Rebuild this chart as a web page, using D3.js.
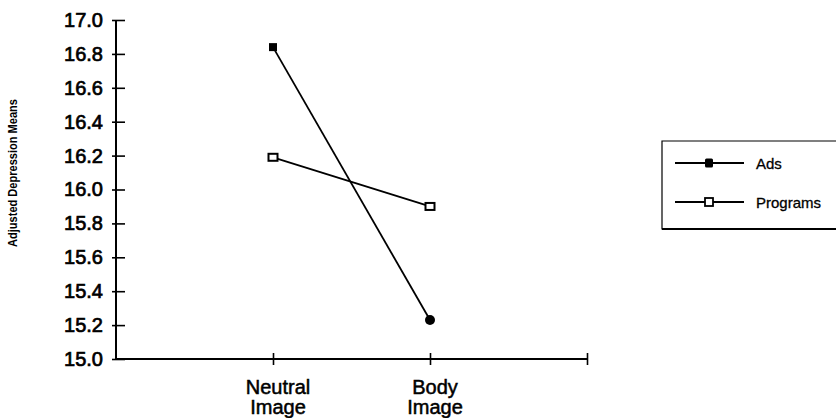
<!DOCTYPE html>
<html>
	<head>
		<meta charset="utf-8">
		<title>Adjusted Depression Means</title>
		<script src="https://d3js.org/d3.v7.min.js"></script>
		<style>
			body { margin: 0; background: #fff; }
			text { font-family: "Liberation Sans", Arial, sans-serif; fill: #000; }
		</style>
	</head>
	<body>
		<script>
			var w = 838;
			var h = 418;

			// data
			var categories = ["Neutral Image", "Body Image"];
			var ads = [16.84, 15.23];
			var programs = [16.19, 15.90];
			var yTicks = [15.0, 15.2, 15.4, 15.6, 15.8, 16.0, 16.2, 16.4, 16.6, 16.8, 17.0];
			var seriesNames = ["Ads", "Programs"];

			var svg = d3.select("body")
						.append("svg")
						.attr("width", w)
						.attr("height", h);

			var xScale = d3.scaleLinear()
				.domain([0, 3])
				.range([116, 587]);

			var yScale = d3.scaleLinear()
				.domain([15, 17])
				.range([359, 20]);

			// y axis
			var yAxis = d3.axisLeft(yScale)
				.tickValues(yTicks)
				.tickFormat(d3.format(".1f"))
				.tickSize(4)
				.tickPadding(9);

			var yG = svg.append("g")
				.attr("transform", "translate(" + xScale(0) + ",0)")
				.call(yAxis);
			yG.select(".domain").attr("stroke-width", 2).attr("d", "M0," + yScale(17) + "V" + yScale(15));
			yG.selectAll(".tick line").attr("x1", -4).attr("x2", 9).attr("stroke-width", 1.6);
			yG.selectAll(".tick text")
				.attr("font-size", 20)
				.attr("font-family", "Liberation Sans, Arial, sans-serif")
				.attr("stroke", "#000").attr("stroke-width", 0.7);

			// x axis
			var xAxis = d3.axisBottom(xScale)
				.tickValues([1, 2, 3])
				.tickFormat("")
				.tickSize(6);

			var xG = svg.append("g")
				.attr("transform", "translate(0," + yScale(15) + ")")
				.call(xAxis);
			xG.select(".domain").attr("stroke-width", 2).attr("d", "M" + xScale(0) + ",0H" + xScale(3));
			xG.selectAll(".tick line").attr("y1", -6).attr("y2", 6).attr("stroke-width", 1.6);

			// category labels, two lines
			categories.forEach(function(c, i) {
				var t = svg.append("text")
					.attr("x", xScale(i + 1) + 5)
					.attr("y", 394)
					.attr("text-anchor", "middle")
					.attr("font-size", 20)
					.attr("stroke", "#000").attr("stroke-width", 0.5);
				c.split(" ").forEach(function(part, j) {
					t.append("tspan")
						.attr("x", xScale(i + 1) + 5)
						.attr("dy", j === 0 ? 0 : 20)
						.text(part);
				});
			});

			// y axis title
			svg.append("text")
				.attr("transform", "translate(17,173) rotate(-90)")
				.attr("text-anchor", "middle")
				.attr("font-family", "Liberation Sans Narrow, Liberation Sans, Arial, sans-serif")
				.attr("font-size", 12)
				.attr("font-weight", "bold")
				.attr("textLength", 148)
				.attr("lengthAdjust", "spacingAndGlyphs")
				.text("Adjusted Depression Means");

			var line = d3.line()
				.x(function(d, i) { return xScale(i + 1); })
				.y(function(d) { return yScale(d); });

			// series lines
			svg.append("path")
				.datum(ads)
				.attr("d", line)
				.attr("fill", "none")
				.attr("stroke", "#000")
				.attr("stroke-width", 1.8);

			svg.append("path")
				.datum(programs)
				.attr("d", line)
				.attr("fill", "none")
				.attr("stroke", "#000")
				.attr("stroke-width", 1.8);

			// ads markers: filled square then filled dot
			svg.append("rect")
				.attr("x", xScale(1) - 4)
				.attr("y", yScale(ads[0]) - 4)
				.attr("width", 8)
				.attr("height", 8)
				.attr("fill", "#000");

			svg.append("circle")
				.attr("cx", xScale(2))
				.attr("cy", yScale(ads[1]))
				.attr("r", 5)
				.attr("fill", "#000");

			// programs markers: open squares
			svg.selectAll("rect.prog")
				.data(programs)
				.enter()
				.append("rect")
				.attr("class", "prog")
				.attr("x", function(d, i) { return xScale(i + 1) - 4.5; })
				.attr("y", function(d) { return yScale(d) - 3.5; })
				.attr("width", 9)
				.attr("height", 7)
				.attr("fill", "#fff")
				.attr("stroke", "#000")
				.attr("stroke-width", 2);

			// legend
			var legend = svg.append("g");
			legend.append("path")
				.attr("d", "M836,141H662V229H836")
				.attr("fill", "none")
				.attr("stroke", "#000")
				.attr("stroke-width", 1.2);
			legend.append("path")
				.attr("d", "M662,229H836")
				.attr("stroke", "#000")
				.attr("stroke-width", 2);

			var rows = [163, 202];
			seriesNames.forEach(function(name, i) {
				legend.append("line")
					.attr("x1", 675).attr("x2", 744)
					.attr("y1", rows[i]).attr("y2", rows[i])
					.attr("stroke", "#000")
					.attr("stroke-width", 1.8);
				if (i === 0) {
					legend.append("rect")
						.attr("x", 705).attr("y", rows[i] - 4.5)
						.attr("width", 8).attr("height", 9)
						.attr("rx", 1.5)
						.attr("fill", "#000");
				} else {
					legend.append("rect")
						.attr("x", 705).attr("y", rows[i] - 4)
						.attr("width", 8).attr("height", 8)
						.attr("fill", "#fff")
						.attr("stroke", "#000")
						.attr("stroke-width", 1.8);
				}
				legend.append("text")
					.attr("x", 756)
					.attr("y", rows[i] + 6)
					.attr("font-size", 15)
					.attr("stroke", "#000").attr("stroke-width", 0.3)
					.text(name);
			});
		</script>
	</body>
</html>
